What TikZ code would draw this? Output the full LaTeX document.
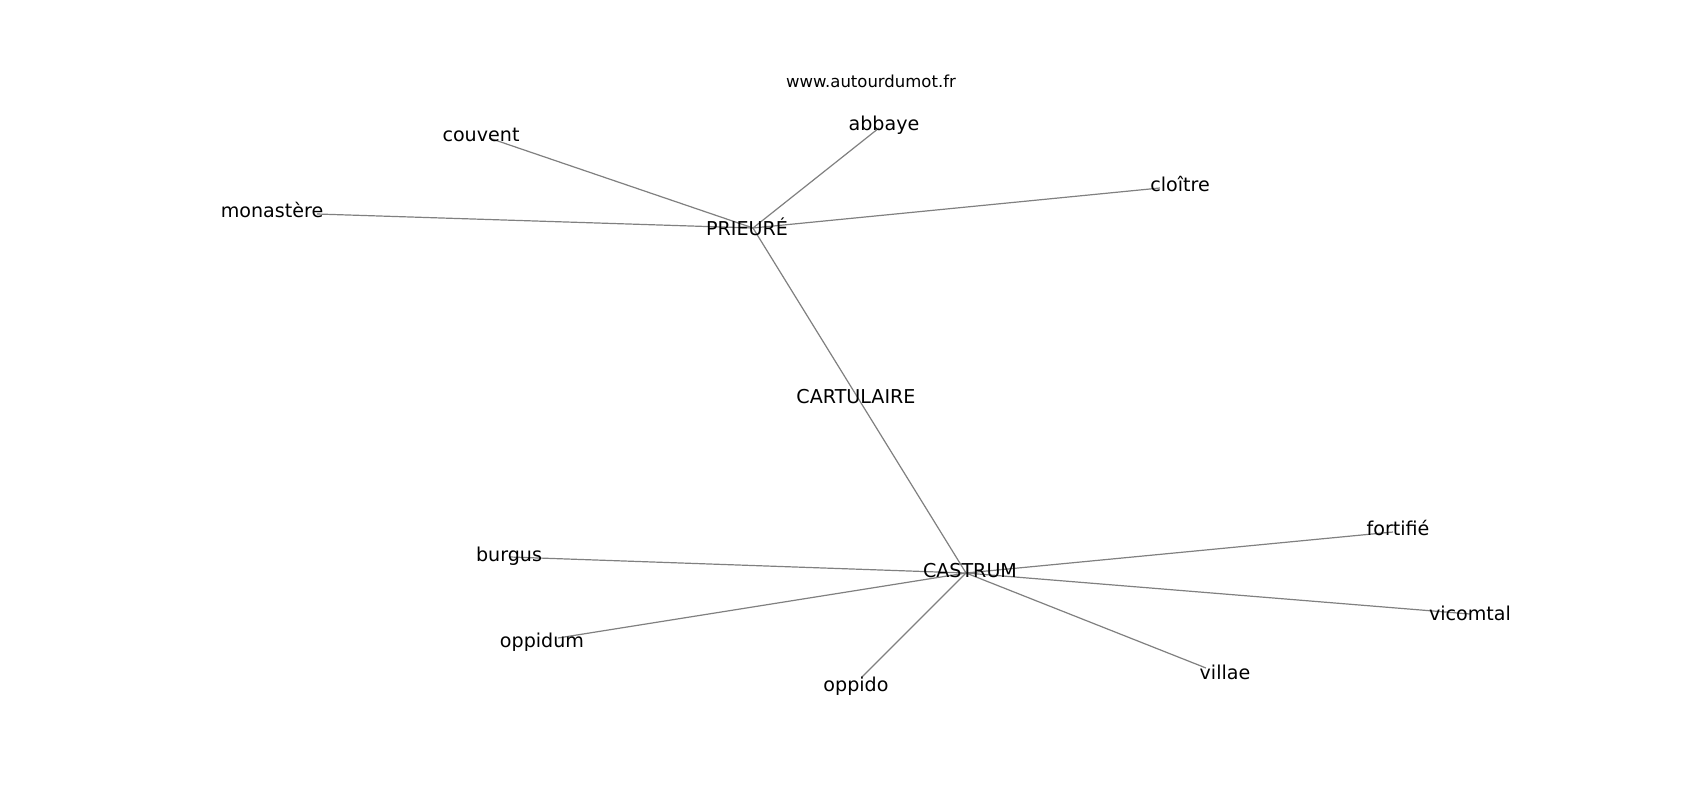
\documentclass[tikz,border=0pt]{standalone}
\usepackage{fontspec}
\setmainfont{DejaVu Sans}
\tikzset{
  edge/.style={draw=black!50, line width=1.2pt},
  lbl/.style={anchor=base, inner sep=0pt, font=\fontsize{19.1}{21}\selectfont},
  ttl/.style={anchor=base, inner sep=0pt, font=\fontsize{16.5}{18}\selectfont}
}
\begin{document}
\begin{tikzpicture}[x=1pt,y=-1pt]
\fill[white] (0,0) rectangle (1700,800);
\useasboundingbox (0,0) rectangle (1700,800);
% edge end points
\coordinate (P) at (753,228);
\coordinate (C) at (966,573);
\coordinate (e-monastere) at (317,214);
\coordinate (e-couvent) at (489,138);
\coordinate (e-abbaye) at (879,128);
\coordinate (e-cloitre) at (1160,188);
\coordinate (e-burgus) at (510,557);
\coordinate (e-oppidum) at (558,638);
\coordinate (e-oppido) at (862,677);
\coordinate (e-villae) at (1206,668);
\coordinate (e-fortifie) at (1393,532);
\coordinate (e-vicomtal) at (1470,614);
% edges
\draw[edge] (P) -- (C);
\draw[edge] (P) -- (e-monastere);
\draw[edge] (P) -- (e-couvent);
\draw[edge] (P) -- (e-abbaye);
\draw[edge] (P) -- (e-cloitre);
\draw[edge] (C) -- (e-burgus);
\draw[edge] (C) -- (e-oppidum);
\draw[edge] (C) -- (e-oppido);
\draw[edge] (C) -- (e-villae);
\draw[edge] (C) -- (e-fortifie);
\draw[edge] (C) -- (e-vicomtal);
% labels
\node[ttl] (www) at (871,88) {www.autourdumot.fr};
\node[lbl] (abbaye) at (884,130) {abbaye};
\node[lbl] (couvent) at (481,141) {couvent};
\node[lbl] (cloitre) at (1180,191) {cloître};
\node[lbl] (monastere) at (272,217) {monastère};
\node[lbl] (prieure) at (747,235) {PRIEURÉ};
\node[lbl] (cartulaire) at (856,403) {CARTULAIRE};
\node[lbl] (fortifie) at (1398,535) {fortifié};
\node[lbl] (burgus) at (509,561) {burgus};
\node[lbl] (castrum) at (970,577) {CASTRUM};
\node[lbl] (vicomtal) at (1470,620) {vicomtal};
\node[lbl] (oppidum) at (542,647) {oppidum};
\node[lbl] (villae) at (1225,679) {villae};
\node[lbl] (oppido) at (856,691) {oppido};
\end{tikzpicture}
\end{document}
